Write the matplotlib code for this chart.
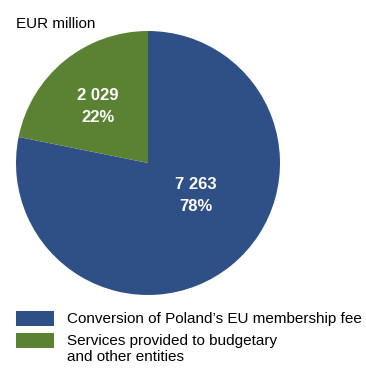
import matplotlib
matplotlib.use("Agg")
import matplotlib.pyplot as plt
from matplotlib.patches import Rectangle

categories = ["Conversion of Poland\u2019s EU membership fee",
              "Services provided to budgetary\nand other entities"]
values = [7263, 2029]
value_labels = ["7 263", "2 029"]
pct_labels = ["78%", "22%"]
colors = ["#2F5087", "#5B8233"]

plt.rcParams["font.family"] = ["Liberation Sans", "DejaVu Sans"]

W, H = 366, 371
fig = plt.figure(figsize=(W / 100, H / 100), dpi=100)

# pie placement in pixel space
cx, cy, r = 148, 163, 132
ax = fig.add_axes([(cx - r) / W, (H - cy - r) / H, 2 * r / W, 2 * r / H])
ax.pie(values, colors=colors, startangle=90, counterclock=False,
       radius=1.0, wedgeprops=dict(linewidth=0))
ax.set_xlim(-1, 1)
ax.set_ylim(-1, 1)
ax.set_aspect("equal")
ax.axis("off")

# value and share labels inside the wedges
label_pos = [(0.364, -0.163, -0.333), (-0.379, 0.515, 0.348)]
for (x, y1, y2), v, p in zip(label_pos, value_labels, pct_labels):
    ax.text(x, y1, v, ha="center", va="center", color="white",
            fontsize=12, fontweight="bold")
    ax.text(x, y2, p, ha="center", va="center", color="white",
            fontsize=12, fontweight="bold")

fig.text(16 / W, 1 - 24.5 / H, "EUR million", ha="left", va="center", fontsize=11)

# legend
rows = [(311, 0), (333, 1)]
for top, i in rows:
    fig.add_artist(Rectangle((16 / W, 1 - (top + 15) / H), 38 / W, 15 / H,
                             transform=fig.transFigure, color=colors[i], lw=0))
    for k, line in enumerate(categories[i].split("\n")):
        fig.text(67 / W, 1 - (top + 7.5 + 16.5 * k) / H, line,
                 ha="left", va="center", fontsize=11)

fig.savefig("out.png", dpi=100)
